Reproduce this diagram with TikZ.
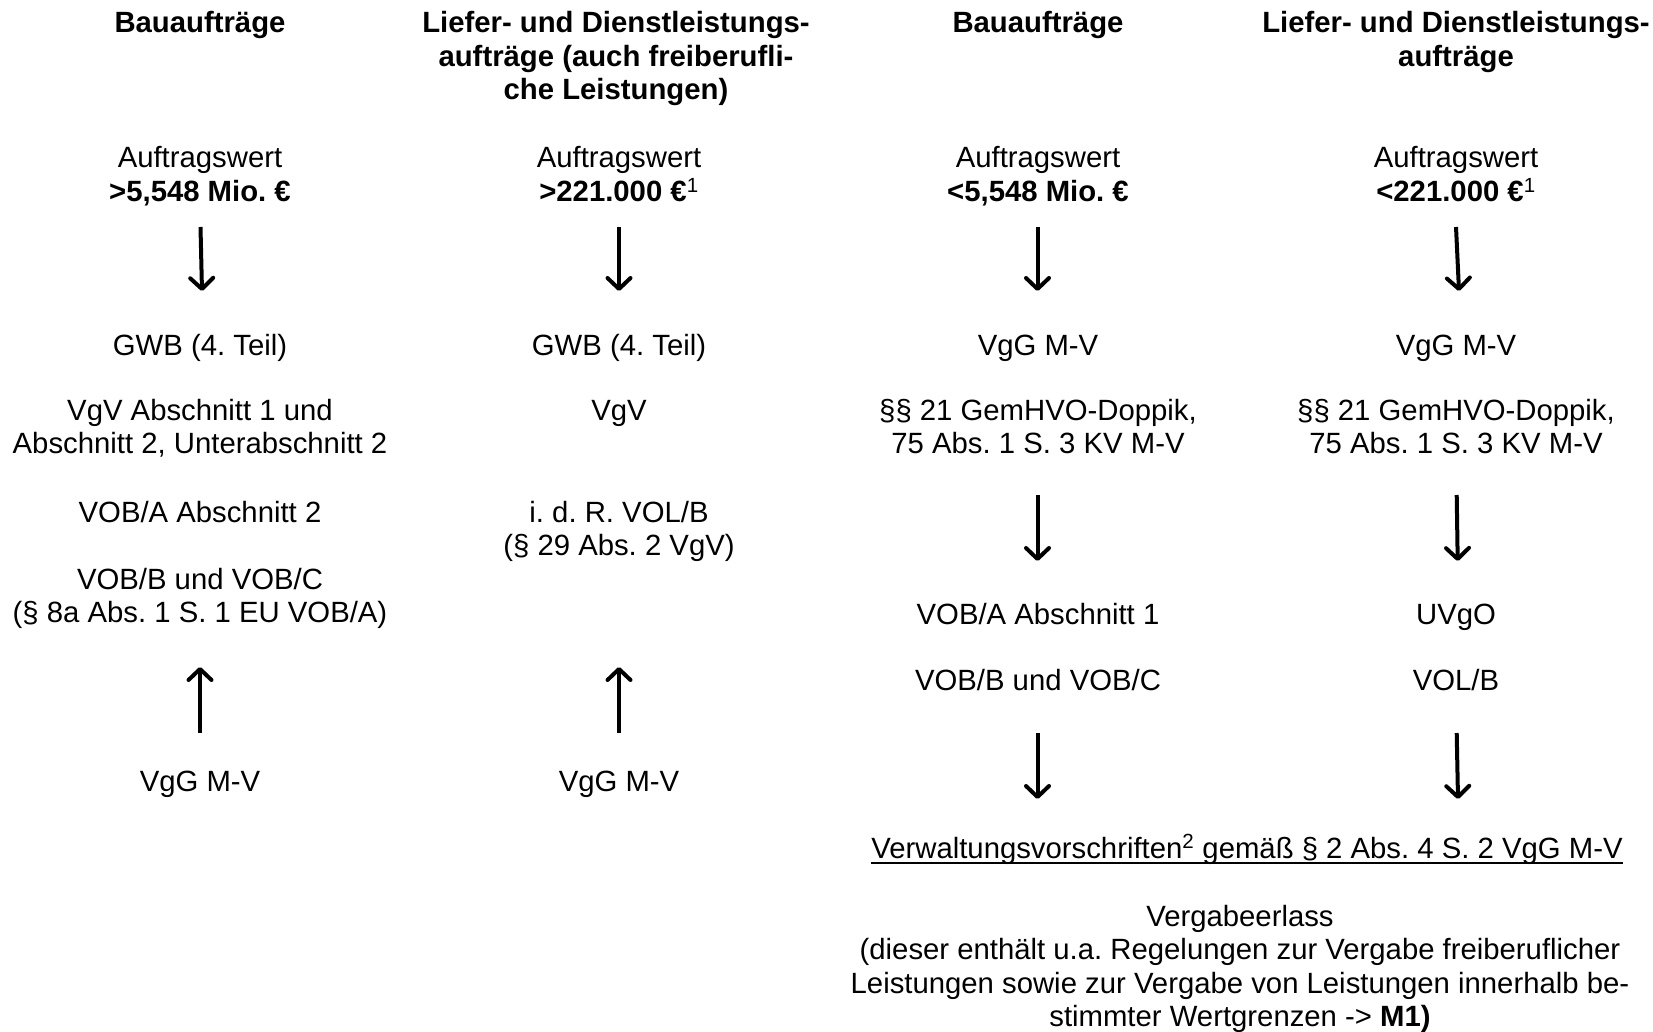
\documentclass[tikz,border=0pt]{standalone}
\usepackage{fontspec}
\setmainfont{Liberation Sans}
\usetikzlibrary{arrows.meta}
\frenchspacing
\newcommand{\mlines}[1]{\begin{tabular}[t]{@{}c@{}}#1\end{tabular}}
\begin{document}
\begin{tikzpicture}[x=1pt,y=-1pt,
  txt/.style={anchor=base, inner sep=0pt, font=\fontsize{29.3}{33.5}\selectfont},
  hdr/.style={txt, font=\fontsize{29.3}{33.5}\selectfont\bfseries},
  arr/.style={line width=4pt, -{Straight Barb[length=11pt,width=23pt,round]}},
]
\fill[white] (0,0) rectangle (1653,1032);
\useasboundingbox (0,0) rectangle (1653,1032);

% ---------- column 1 ----------
\node[hdr] (h1) at (200,33) {Bauaufträge};
\node[txt] (w1) at (200,168) {\mlines{Auftragswert\\\textbf{>5,548 Mio. €}}};
\coordinate (a1s) at (200.5,227); \coordinate (a1e) at (202,291);
\node[txt] (g1) at (200,355) {GWB (4. Teil)};
\node[txt] (v1) at (200,420) {\mlines{VgV Abschnitt 1 und\\Abschnitt 2, Unterabschnitt 2}};
\node[txt] (o1) at (200,522) {VOB/A Abschnitt 2};
\node[txt] (b1) at (200,589) {\mlines{VOB/B und VOB/C\\(§ 8a Abs. 1 S. 1 EU VOB/A)}};
\coordinate (u1s) at (200,733); \coordinate (u1e) at (200,667);
\node[txt] (m1) at (200,791) {VgG M-V};

% ---------- column 2 ----------
\node[hdr] (h2) at (616,33) {\mlines{Liefer- und Dienstleistungs-\\aufträge (auch freiberufli-\\che Leistungen)}};
\node[txt] (w2) at (619,168) {\mlines{Auftragswert\\\textbf{>221.000 €}\textsuperscript{1}}};
\coordinate (a2s) at (619,227); \coordinate (a2e) at (619,291);
\node[txt] (g2) at (619,355) {GWB (4. Teil)};
\node[txt] (v2) at (619,420) {VgV};
\node[txt] (r2) at (619,522) {\mlines{i. d. R. VOL/B\\(§ 29 Abs. 2 VgV)}};
\coordinate (u2s) at (619,733); \coordinate (u2e) at (619,667);
\node[txt] (m2) at (619,791) {VgG M-V};

% ---------- column 3 ----------
\node[hdr] (h3) at (1038,33) {Bauaufträge};
\node[txt] (w3) at (1038,168) {\mlines{Auftragswert\\\textbf{<5,548 Mio. €}}};
\coordinate (a3s) at (1037.5,227); \coordinate (a3e) at (1037.5,291);
\node[txt] (g3) at (1038,355) {VgG M-V};
\node[txt] (p3) at (1038,420) {\mlines{§§ 21 GemHVO-Doppik,\\75 Abs. 1 S. 3 KV M-V}};
\coordinate (b3s) at (1037.5,495); \coordinate (b3e) at (1037.5,561);
\node[txt] (o3) at (1038,624) {VOB/A Abschnitt 1};
\node[txt] (q3) at (1038,690) {VOB/B und VOB/C};
\coordinate (c3s) at (1037.5,733); \coordinate (c3e) at (1037.5,799);

% ---------- column 4 ----------
\node[hdr] (h4) at (1456,33) {\mlines{Liefer- und Dienstleistungs-\\aufträge}};
\node[txt] (w4) at (1456,168) {\mlines{Auftragswert\\\textbf{<221.000 €}\textsuperscript{1}}};
\coordinate (a4s) at (1456,227); \coordinate (a4e) at (1459,291);
\node[txt] (g4) at (1456,355) {VgG M-V};
\node[txt] (p4) at (1456,420) {\mlines{§§ 21 GemHVO-Doppik,\\75 Abs. 1 S. 3 KV M-V}};
\coordinate (b4s) at (1456.7,495); \coordinate (b4e) at (1457.7,561);
\node[txt] (u4) at (1456,624) {UVgO};
\node[txt] (l4) at (1456,690) {VOL/B};
\coordinate (c4s) at (1456.7,733); \coordinate (c4e) at (1458,799);

% ---------- bottom ----------
\node[txt] (vw) at (1247,858) {Verwaltungsvorschriften\textsuperscript{2} gemäß § 2 Abs. 4 S. 2 VgG M-V};
\draw[line width=2.5pt] ([yshift=-5pt]vw.base west) -- ([yshift=-5pt]vw.base east);
\node[txt] (ve) at (1240,926) {\mlines{Vergabeerlass\\(dieser enthält u.a. Regelungen zur Vergabe freiberuflicher\\Leistungen sowie zur Vergabe von Leistungen innerhalb be-\\stimmter Wertgrenzen -> \textbf{M1)}}};

% ---------- arrows ----------
\foreach \s/\e in {a1s/a1e, a2s/a2e, a3s/a3e, a4s/a4e, u1s/u1e, u2s/u2e, b3s/b3e, b4s/b4e, c3s/c3e, c4s/c4e}
  \draw[arr] (\s) -- (\e);
\end{tikzpicture}
\end{document}
